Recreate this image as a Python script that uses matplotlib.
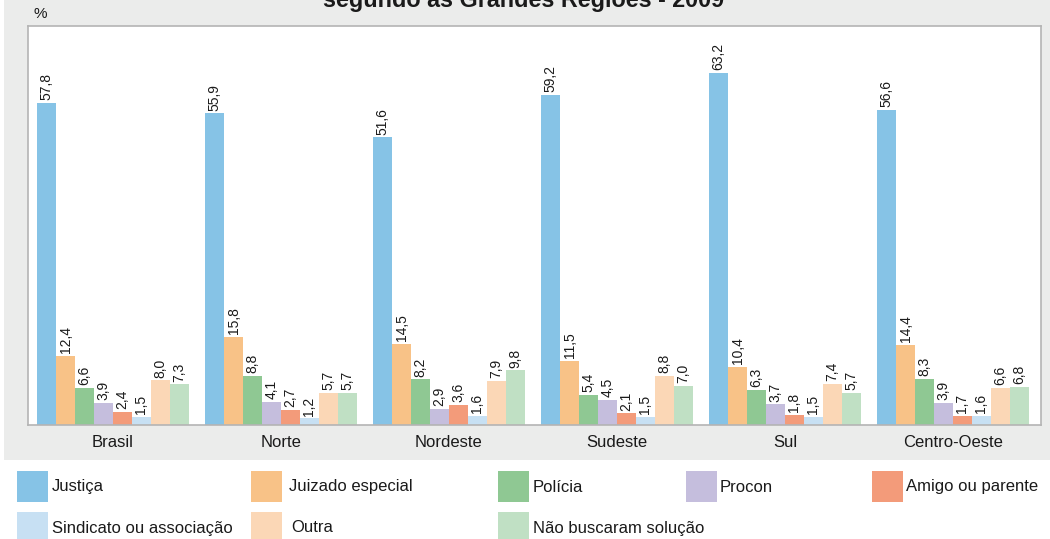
import matplotlib
matplotlib.use('Agg')
import matplotlib.pyplot as plt
from matplotlib.patches import Rectangle
import numpy as np

plt.rcParams['font.family'] = ['Liberation Sans', 'DejaVu Sans']

regioes = ['Brasil', 'Norte', 'Nordeste', 'Sudeste', 'Sul', 'Centro-Oeste']
series = ['Justiça', 'Juizado especial', 'Polícia', 'Procon', 'Amigo ou parente',
          'Sindicato ou associação', 'Outra', 'Não buscaram solução']
cores = ['#86C3E6', '#F8C287', '#8FC893', '#C5BEDD', '#F39B7A',
         '#C7E0F3', '#FBD7B6', '#C0E0C4']

justica = [57.8, 55.9, 51.6, 59.2, 63.2, 56.6]
juizado = [12.4, 15.8, 14.5, 11.5, 10.4, 14.4]
policia = [6.6, 8.8, 8.2, 5.4, 6.3, 8.3]
procon = [3.9, 4.1, 2.9, 4.5, 3.7, 3.9]
amigo = [2.4, 2.7, 3.6, 2.1, 1.8, 1.7]
sindicato = [1.5, 1.2, 1.6, 1.5, 1.5, 1.6]
outra = [8.0, 5.7, 7.9, 8.8, 7.4, 6.6]
nao_buscaram = [7.3, 5.7, 9.8, 7.0, 5.7, 6.8]

valores = [justica, juizado, policia, procon, amigo, sindicato, outra, nao_buscaram]

W, H = 1050, 539
fig = plt.figure(figsize=(W / 100, H / 100), dpi=100, facecolor='white')

# fundo cinza
fig.patches.append(Rectangle((4 / W, 1 - 460 / H), 1 - 4 / W, 460 / H,
                             transform=fig.transFigure, facecolor='#EBECEB',
                             edgecolor='none', zorder=-10))

ax = fig.add_axes([28 / W, 1 - 425 / H, (1041 - 28) / W, (425 - 26) / H])
ax.set_zorder(5)
ax.set_facecolor('white')
for s in ax.spines.values():
    s.set_color('#B4B4B4')
    s.set_linewidth(1.2)

x = np.arange(len(regioes))
bw = 0.113
for i, (vals, cor) in enumerate(zip(valores, cores)):
    pos = x + (i - 3.5) * bw
    ax.bar(pos, vals, width=bw, color=cor, edgecolor='none', zorder=2)
    for px, v in zip(pos, vals):
        ax.annotate(f'{v:.1f}'.replace('.', ','), (px, v), xytext=(0, 2),
                    textcoords='offset points', rotation=90, ha='center',
                    va='bottom', fontsize=10, color='#1a1a1a')

ax.set_xlim(-0.506, 5.524)
ax.set_ylim(0, 71.6)
ax.set_yticks([])
ax.set_xticks(x)
ax.set_xticklabels(regioes, fontsize=12, color='#1a1a1a')
ax.tick_params(axis='x', length=0, pad=7)

# titulo cortado no topo, como no original
fig.text(524 / W, 1 - 7 / H, 'segundo as Grandes Regiões - 2009', ha='center',
         va='baseline', fontsize=16.8, fontweight='bold', color='#1a1a1a')
fig.text(33 / W, 1 - 14 / H, '%', ha='left', va='center', fontsize=11,
         color='#1a1a1a')

# legenda
leg_pos = [(17, 487), (251, 487), (498, 487), (686, 487), (872, 487),
           (17, 528), (251, 528), (498, 528)]
txt_off = [35, 38, 35, 34, 34, 35, 40, 35]
for (lx, ly), cor, nome, off in zip(leg_pos, cores, series, txt_off):
    fig.patches.append(Rectangle((lx / W, 1 - (ly + 15) / H), 31 / W, 31 / H,
                                 transform=fig.transFigure, facecolor=cor,
                                 edgecolor='none'))
    fig.text((lx + off) / W, 1 - ly / H, nome, ha='left', va='center',
             fontsize=12, color='#1a1a1a')

fig.savefig('out.png', dpi=100, facecolor='white')
